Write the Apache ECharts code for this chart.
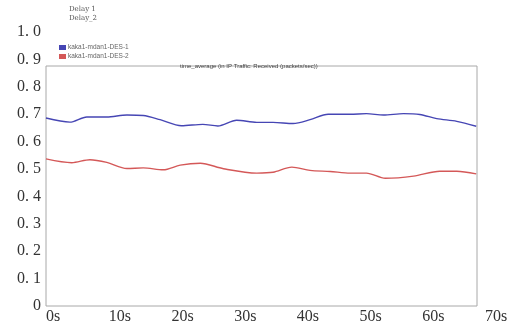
<!DOCTYPE html>
<html>
<head>
<meta charset="utf-8">
<script src="https://cdn.jsdelivr.net/npm/echarts@6/dist/echarts.min.js"></script>
<style>
  html, body { margin: 0; padding: 0; background: #fff; }
  #line-chart { width: 516px; height: 330px; }
</style>
</head>
<body>
<div id="line-chart"></div>
<script>
// values, [seconds, value]
const seriesNames = ['kaka1-mdan1-DES-1', 'kaka1-mdan1-DES-2'];
const legendLabels = ['Delay 1', 'Delay_2'];
const chartTitle = 'time_average (in IP Traffic: Received (packets/sec))';

const delay1 = [
  [0, 0.686], [3.8, 0.671], [6.5, 0.690], [9.7, 0.690], [12.9, 0.697],
  [15.5, 0.695], [18.2, 0.680], [21.6, 0.658], [25.0, 0.663], [27.4, 0.657],
  [30.4, 0.678], [33.6, 0.670], [36.2, 0.670], [39.4, 0.666], [42.1, 0.680],
  [45.0, 0.700], [48.5, 0.700], [51.1, 0.702], [53.8, 0.697], [57.0, 0.702],
  [59.6, 0.699], [62.3, 0.684], [65.5, 0.674], [68.6, 0.656],
];
const delay2 = [
  [0, 0.537], [4.1, 0.523], [7.0, 0.534], [9.7, 0.524], [12.9, 0.502],
  [15.5, 0.504], [18.7, 0.497], [21.4, 0.514], [24.6, 0.521], [28.3, 0.501],
  [33.6, 0.485], [36.2, 0.488], [39.2, 0.507], [42.1, 0.495], [45.3, 0.491],
  [48.5, 0.485], [51.1, 0.485], [54.1, 0.466], [58.6, 0.474], [62.8, 0.492],
  [65.5, 0.492], [68.6, 0.482],
];
const lineColors = ['#4646b4', '#d45858'];

let chartDom = document.getElementById('line-chart');
let myChart = echarts.init(chartDom);

let option = {
  animation: false,
  title: {
    text: chartTitle,
    left: 175,
    top: 58,
    textStyle: { fontSize: 6, fontWeight: 'normal', color: '#444', fontFamily: 'Liberation Sans' },
  },
  legend: [
    {
      // outer legend, text only
      data: seriesNames,
      orient: 'vertical',
      left: 57,
      top: 1,
      icon: 'none',
      itemWidth: 2,
      itemHeight: 7,
      itemGap: 2,
      formatter: (name) => legendLabels[seriesNames.indexOf(name)],
      textStyle: { fontSize: 7, color: '#555', fontFamily: 'DejaVu Serif' },
    },
    {
      // legend inside the frame
      data: seriesNames,
      orient: 'vertical',
      left: 54,
      top: 39,
      icon: 'rect',
      itemWidth: 7,
      itemHeight: 5,
      itemGap: 2,
      textStyle: { fontSize: 6.5, color: '#666', padding: [0, 0, 0, -3] },
    },
  ],
  grid: [
    { left: 46, right: 31, top: 32, bottom: 24 },
    { left: 46, right: 39, top: 66, bottom: 24, show: true, borderColor: '#a8a8a8', borderWidth: 1 },
  ],
  xAxis: [
    {
      type: 'value',
      gridIndex: 0,
      min: 0,
      max: 70,
      interval: 10,
      axisLine: { show: false },
      axisTick: { show: false },
      splitLine: { show: false },
      axisLabel: {
        formatter: '{value}s',
        align: 'left',
        margin: 3,
        fontSize: 16,
        color: '#333',
        fontFamily: 'Liberation Serif',
      },
    },
    { type: 'value', gridIndex: 1, show: false },
  ],
  yAxis: [
    {
      type: 'value',
      gridIndex: 0,
      min: 0,
      max: 1,
      interval: 0.1,
      axisLine: { show: false },
      axisTick: { show: false },
      splitLine: { show: false },
      axisLabel: {
        formatter: (v) => (v === 0 ? '0' : v.toFixed(1).replace('.', '. ')),
        margin: 5,
        fontSize: 16,
        color: '#333',
        fontFamily: 'Liberation Serif',
      },
    },
    { type: 'value', gridIndex: 1, show: false },
  ],
  series: [delay1, delay2].map((data, i) => ({
    name: seriesNames[i],
    type: 'line',
    xAxisIndex: 0,
    yAxisIndex: 0,
    smooth: 0.3,
    symbol: 'none',
    color: lineColors[i],
    lineStyle: { width: 1.4 },
    data: data,
  })),
};

myChart.setOption(option);
</script>
</body>
</html>
